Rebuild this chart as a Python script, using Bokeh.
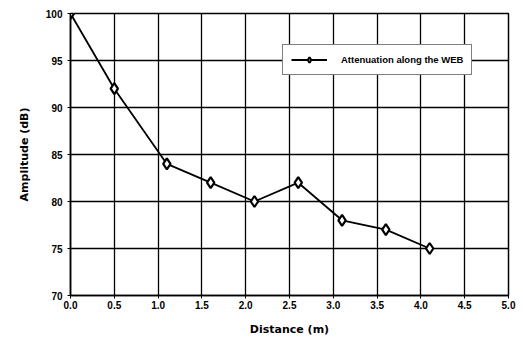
from bokeh.plotting import figure
from bokeh.models import NumeralTickFormatter, FixedTicker, Range1d, Legend, LegendItem
from bokeh.embed import file_html
from bokeh.resources import INLINE

distance = [0.0, 0.5, 1.1, 1.6, 2.1, 2.6, 3.1, 3.6, 4.1]
amplitude = [100, 92, 84, 82, 80, 82, 78, 77, 75]
x_ticks = [0.0, 0.5, 1.0, 1.5, 2.0, 2.5, 3.0, 3.5, 4.0, 4.5, 5.0]
y_ticks = [70, 75, 80, 85, 90, 95, 100]
series_name = "Attenuation along the WEB"

p = figure(width=523, height=338, output_backend="svg", toolbar_location=None,
           x_range=Range1d(0, 5), y_range=Range1d(70, 100),
           min_border_left=70, min_border_right=15, min_border_top=13, min_border_bottom=43)

p.background_fill_color = "white"
p.border_fill_color = "white"
p.outline_line_color = "black"
p.outline_line_width = 1.5

for ax in (p.xaxis, p.yaxis):
    ax.axis_line_width = 1.5
    ax.axis_line_color = "black"
    ax.major_tick_line_color = "black"
    ax.major_tick_in = 3
    ax.major_tick_out = 3
    ax.minor_tick_line_color = None
    ax.major_label_text_font = "Liberation Sans"
    ax.major_label_text_font_style = "bold"
    ax.major_label_text_font_size = "10px"
    ax.major_label_text_color = "black"
    ax.axis_label_text_font = "DejaVu Sans"
    ax.axis_label_text_font_style = "bold"
    ax.axis_label_text_font_size = "11px"
    ax.axis_label_text_color = "black"

p.xaxis.ticker = FixedTicker(ticks=x_ticks)
p.yaxis.ticker = FixedTicker(ticks=y_ticks)
p.xaxis.formatter = NumeralTickFormatter(format="0.0")
p.xaxis.axis_label = "Distance (m)"
p.yaxis.axis_label = "Amplitude (dB)"
p.xaxis.major_label_standoff = 2
p.xaxis.axis_label_standoff = 11
p.yaxis.axis_label_standoff = 12

p.xgrid.grid_line_color = "black"
p.ygrid.grid_line_color = "black"
p.xgrid.grid_line_width = 1.3
p.ygrid.grid_line_width = 1.3

ln = p.line(distance, amplitude, line_color="black", line_width=1.8)
mk = p.scatter(distance, amplitude, marker="diamond", size=11, fill_color="white",
               line_color="black", line_width=2.2)

legend = Legend(items=[LegendItem(label=series_name, renderers=[ln, mk])],
                location=(212, 220))
legend.label_text_font = "Liberation Sans"
legend.label_text_font_style = "bold"
legend.label_text_font_size = "9.5px"
legend.label_text_color = "black"
legend.border_line_color = "black"
legend.border_line_width = 1.5
legend.background_fill_alpha = 1
legend.glyph_width = 36
legend.glyph_height = 13
legend.label_height = 13
legend.padding = 8
legend.spacing = 0
legend.margin = 0
legend.label_standoff = 14
p.add_layout(legend, "center")

open("out.html", "w").write(file_html(p, INLINE))
